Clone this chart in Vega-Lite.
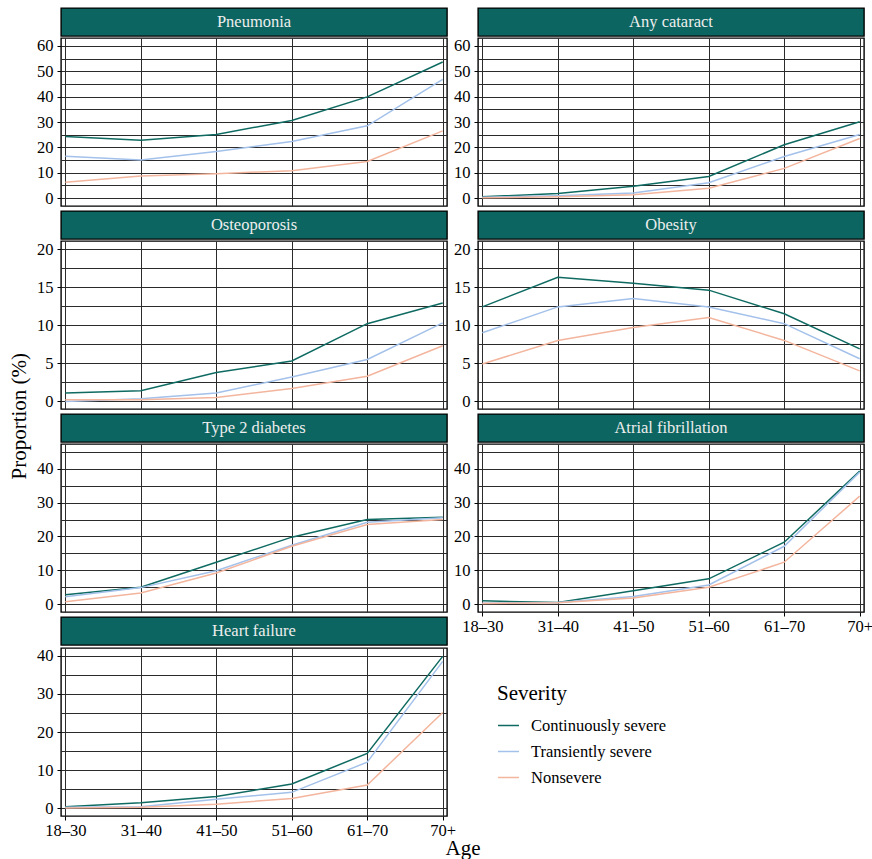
{
  "$schema": "https://vega.github.io/schema/vega-lite/v6.json",
  "padding": {"left": 8, "top": 7, "right": 0, "bottom": 0},
  "background": "white",
  "title": {"text": "Age", "orient": "bottom", "anchor": "middle", "font": "Liberation Serif", "fontSize": 21, "fontWeight": "normal", "color": "black", "dx": 22, "offset": -1},
  "config": {
    "view": {"stroke": "black", "strokeWidth": 1.4},
    "axis": {"labelFont": "Liberation Serif", "labelFontSize": 16.5, "labelColor": "black", "tickColor": "black", "tickSize": 4, "labelPadding": 4, "domain": false, "grid": true, "gridColor": "#2b2b2b", "gridWidth": 1, "titleFont": "Liberation Serif", "titleFontSize": 21, "titleFontWeight": "normal", "titleColor": "black", "minExtent": 0},
    "legend": {"titleFont": "Liberation Serif", "titleFontSize": 21, "titleFontWeight": "normal", "titleColor": "black", "labelFont": "Liberation Serif", "labelFontSize": 16.5, "labelColor": "black", "symbolType": "stroke", "symbolSize": 441, "symbolStrokeWidth": 1.5, "rowPadding": 6, "titlePadding": 10, "labelOffset": 11}
  },
  "datasets": {
    "panels": [{"panel": "Pneumonia"}, {"panel": "Any cataract"}, {"panel": "Osteoporosis"}, {"panel": "Obesity"}, {"panel": "Type 2 diabetes"}, {"panel": "Atrial fibrillation"}, {"panel": "Heart failure"}],
    "main": [
      {"panel": "Pneumonia", "severity": "Continuously severe", "age": "18–30", "value": 24.3},
      {"panel": "Pneumonia", "severity": "Continuously severe", "age": "31–40", "value": 22.8},
      {"panel": "Pneumonia", "severity": "Continuously severe", "age": "41–50", "value": 25.1},
      {"panel": "Pneumonia", "severity": "Continuously severe", "age": "51–60", "value": 30.6},
      {"panel": "Pneumonia", "severity": "Continuously severe", "age": "61–70", "value": 39.9},
      {"panel": "Pneumonia", "severity": "Continuously severe", "age": "70+", "value": 53.7},
      {"panel": "Pneumonia", "severity": "Transiently severe", "age": "18–30", "value": 16.5},
      {"panel": "Pneumonia", "severity": "Transiently severe", "age": "31–40", "value": 15.0},
      {"panel": "Pneumonia", "severity": "Transiently severe", "age": "41–50", "value": 18.4},
      {"panel": "Pneumonia", "severity": "Transiently severe", "age": "51–60", "value": 22.3},
      {"panel": "Pneumonia", "severity": "Transiently severe", "age": "61–70", "value": 28.5},
      {"panel": "Pneumonia", "severity": "Transiently severe", "age": "70+", "value": 46.8},
      {"panel": "Pneumonia", "severity": "Nonsevere", "age": "18–30", "value": 6.2},
      {"panel": "Pneumonia", "severity": "Nonsevere", "age": "31–40", "value": 8.7},
      {"panel": "Pneumonia", "severity": "Nonsevere", "age": "41–50", "value": 9.6},
      {"panel": "Pneumonia", "severity": "Nonsevere", "age": "51–60", "value": 10.8},
      {"panel": "Pneumonia", "severity": "Nonsevere", "age": "61–70", "value": 14.4},
      {"panel": "Pneumonia", "severity": "Nonsevere", "age": "70+", "value": 26.5},

      {"panel": "Any cataract", "severity": "Continuously severe", "age": "18–30", "value": 0.5},
      {"panel": "Any cataract", "severity": "Continuously severe", "age": "31–40", "value": 1.8},
      {"panel": "Any cataract", "severity": "Continuously severe", "age": "41–50", "value": 4.6},
      {"panel": "Any cataract", "severity": "Continuously severe", "age": "51–60", "value": 8.5},
      {"panel": "Any cataract", "severity": "Continuously severe", "age": "61–70", "value": 21.0},
      {"panel": "Any cataract", "severity": "Continuously severe", "age": "70+", "value": 30.1},
      {"panel": "Any cataract", "severity": "Transiently severe", "age": "18–30", "value": 0.3},
      {"panel": "Any cataract", "severity": "Transiently severe", "age": "31–40", "value": 0.9},
      {"panel": "Any cataract", "severity": "Transiently severe", "age": "41–50", "value": 2.0},
      {"panel": "Any cataract", "severity": "Transiently severe", "age": "51–60", "value": 6.0},
      {"panel": "Any cataract", "severity": "Transiently severe", "age": "61–70", "value": 16.4},
      {"panel": "Any cataract", "severity": "Transiently severe", "age": "70+", "value": 25.1},
      {"panel": "Any cataract", "severity": "Nonsevere", "age": "18–30", "value": 0.1},
      {"panel": "Any cataract", "severity": "Nonsevere", "age": "31–40", "value": 0.5},
      {"panel": "Any cataract", "severity": "Nonsevere", "age": "41–50", "value": 1.3},
      {"panel": "Any cataract", "severity": "Nonsevere", "age": "51–60", "value": 3.9},
      {"panel": "Any cataract", "severity": "Nonsevere", "age": "61–70", "value": 11.7},
      {"panel": "Any cataract", "severity": "Nonsevere", "age": "70+", "value": 23.5},

      {"panel": "Osteoporosis", "severity": "Continuously severe", "age": "18–30", "value": 1.1},
      {"panel": "Osteoporosis", "severity": "Continuously severe", "age": "31–40", "value": 1.4},
      {"panel": "Osteoporosis", "severity": "Continuously severe", "age": "41–50", "value": 3.8},
      {"panel": "Osteoporosis", "severity": "Continuously severe", "age": "51–60", "value": 5.3},
      {"panel": "Osteoporosis", "severity": "Continuously severe", "age": "61–70", "value": 10.2},
      {"panel": "Osteoporosis", "severity": "Continuously severe", "age": "70+", "value": 12.9},
      {"panel": "Osteoporosis", "severity": "Transiently severe", "age": "18–30", "value": 0.0},
      {"panel": "Osteoporosis", "severity": "Transiently severe", "age": "31–40", "value": 0.35},
      {"panel": "Osteoporosis", "severity": "Transiently severe", "age": "41–50", "value": 1.1},
      {"panel": "Osteoporosis", "severity": "Transiently severe", "age": "51–60", "value": 3.2},
      {"panel": "Osteoporosis", "severity": "Transiently severe", "age": "61–70", "value": 5.5},
      {"panel": "Osteoporosis", "severity": "Transiently severe", "age": "70+", "value": 10.3},
      {"panel": "Osteoporosis", "severity": "Nonsevere", "age": "18–30", "value": 0.2},
      {"panel": "Osteoporosis", "severity": "Nonsevere", "age": "31–40", "value": 0.2},
      {"panel": "Osteoporosis", "severity": "Nonsevere", "age": "41–50", "value": 0.5},
      {"panel": "Osteoporosis", "severity": "Nonsevere", "age": "51–60", "value": 1.7},
      {"panel": "Osteoporosis", "severity": "Nonsevere", "age": "61–70", "value": 3.3},
      {"panel": "Osteoporosis", "severity": "Nonsevere", "age": "70+", "value": 7.3},

      {"panel": "Obesity", "severity": "Continuously severe", "age": "18–30", "value": 12.4},
      {"panel": "Obesity", "severity": "Continuously severe", "age": "31–40", "value": 16.3},
      {"panel": "Obesity", "severity": "Continuously severe", "age": "41–50", "value": 15.5},
      {"panel": "Obesity", "severity": "Continuously severe", "age": "51–60", "value": 14.6},
      {"panel": "Obesity", "severity": "Continuously severe", "age": "61–70", "value": 11.5},
      {"panel": "Obesity", "severity": "Continuously severe", "age": "70+", "value": 6.9},
      {"panel": "Obesity", "severity": "Transiently severe", "age": "18–30", "value": 9.0},
      {"panel": "Obesity", "severity": "Transiently severe", "age": "31–40", "value": 12.4},
      {"panel": "Obesity", "severity": "Transiently severe", "age": "41–50", "value": 13.5},
      {"panel": "Obesity", "severity": "Transiently severe", "age": "51–60", "value": 12.4},
      {"panel": "Obesity", "severity": "Transiently severe", "age": "61–70", "value": 10.2},
      {"panel": "Obesity", "severity": "Transiently severe", "age": "70+", "value": 5.6},
      {"panel": "Obesity", "severity": "Nonsevere", "age": "18–30", "value": 4.9},
      {"panel": "Obesity", "severity": "Nonsevere", "age": "31–40", "value": 8.0},
      {"panel": "Obesity", "severity": "Nonsevere", "age": "41–50", "value": 9.7},
      {"panel": "Obesity", "severity": "Nonsevere", "age": "51–60", "value": 11.0},
      {"panel": "Obesity", "severity": "Nonsevere", "age": "61–70", "value": 8.0},
      {"panel": "Obesity", "severity": "Nonsevere", "age": "70+", "value": 4.0},

      {"panel": "Type 2 diabetes", "severity": "Continuously severe", "age": "18–30", "value": 2.8},
      {"panel": "Type 2 diabetes", "severity": "Continuously severe", "age": "31–40", "value": 5.0},
      {"panel": "Type 2 diabetes", "severity": "Continuously severe", "age": "41–50", "value": 12.4},
      {"panel": "Type 2 diabetes", "severity": "Continuously severe", "age": "51–60", "value": 19.8},
      {"panel": "Type 2 diabetes", "severity": "Continuously severe", "age": "61–70", "value": 25.0},
      {"panel": "Type 2 diabetes", "severity": "Continuously severe", "age": "70+", "value": 25.7},
      {"panel": "Type 2 diabetes", "severity": "Transiently severe", "age": "18–30", "value": 2.2},
      {"panel": "Type 2 diabetes", "severity": "Transiently severe", "age": "31–40", "value": 4.9},
      {"panel": "Type 2 diabetes", "severity": "Transiently severe", "age": "41–50", "value": 9.9},
      {"panel": "Type 2 diabetes", "severity": "Transiently severe", "age": "51–60", "value": 17.4},
      {"panel": "Type 2 diabetes", "severity": "Transiently severe", "age": "61–70", "value": 24.2},
      {"panel": "Type 2 diabetes", "severity": "Transiently severe", "age": "70+", "value": 25.5},
      {"panel": "Type 2 diabetes", "severity": "Nonsevere", "age": "18–30", "value": 0.7},
      {"panel": "Type 2 diabetes", "severity": "Nonsevere", "age": "31–40", "value": 3.3},
      {"panel": "Type 2 diabetes", "severity": "Nonsevere", "age": "41–50", "value": 9.2},
      {"panel": "Type 2 diabetes", "severity": "Nonsevere", "age": "51–60", "value": 17.1},
      {"panel": "Type 2 diabetes", "severity": "Nonsevere", "age": "61–70", "value": 23.5},
      {"panel": "Type 2 diabetes", "severity": "Nonsevere", "age": "70+", "value": 25.0},

      {"panel": "Atrial fibrillation", "severity": "Continuously severe", "age": "18–30", "value": 1.0},
      {"panel": "Atrial fibrillation", "severity": "Continuously severe", "age": "31–40", "value": 0.5},
      {"panel": "Atrial fibrillation", "severity": "Continuously severe", "age": "41–50", "value": 4.0},
      {"panel": "Atrial fibrillation", "severity": "Continuously severe", "age": "51–60", "value": 7.5},
      {"panel": "Atrial fibrillation", "severity": "Continuously severe", "age": "61–70", "value": 18.3},
      {"panel": "Atrial fibrillation", "severity": "Continuously severe", "age": "70+", "value": 39.3},
      {"panel": "Atrial fibrillation", "severity": "Transiently severe", "age": "18–30", "value": 0.3},
      {"panel": "Atrial fibrillation", "severity": "Transiently severe", "age": "31–40", "value": 0.5},
      {"panel": "Atrial fibrillation", "severity": "Transiently severe", "age": "41–50", "value": 2.3},
      {"panel": "Atrial fibrillation", "severity": "Transiently severe", "age": "51–60", "value": 5.7},
      {"panel": "Atrial fibrillation", "severity": "Transiently severe", "age": "61–70", "value": 17.1},
      {"panel": "Atrial fibrillation", "severity": "Transiently severe", "age": "70+", "value": 39.0},
      {"panel": "Atrial fibrillation", "severity": "Nonsevere", "age": "18–30", "value": 0.2},
      {"panel": "Atrial fibrillation", "severity": "Nonsevere", "age": "31–40", "value": 0.4},
      {"panel": "Atrial fibrillation", "severity": "Nonsevere", "age": "41–50", "value": 1.8},
      {"panel": "Atrial fibrillation", "severity": "Nonsevere", "age": "51–60", "value": 5.0},
      {"panel": "Atrial fibrillation", "severity": "Nonsevere", "age": "61–70", "value": 12.4},
      {"panel": "Atrial fibrillation", "severity": "Nonsevere", "age": "70+", "value": 31.9},

      {"panel": "Heart failure", "severity": "Continuously severe", "age": "18–30", "value": 0.4},
      {"panel": "Heart failure", "severity": "Continuously severe", "age": "31–40", "value": 1.5},
      {"panel": "Heart failure", "severity": "Continuously severe", "age": "41–50", "value": 3.1},
      {"panel": "Heart failure", "severity": "Continuously severe", "age": "51–60", "value": 6.4},
      {"panel": "Heart failure", "severity": "Continuously severe", "age": "61–70", "value": 14.4},
      {"panel": "Heart failure", "severity": "Continuously severe", "age": "70+", "value": 39.8},
      {"panel": "Heart failure", "severity": "Transiently severe", "age": "18–30", "value": 0.3},
      {"panel": "Heart failure", "severity": "Transiently severe", "age": "31–40", "value": 0.4},
      {"panel": "Heart failure", "severity": "Transiently severe", "age": "41–50", "value": 2.4},
      {"panel": "Heart failure", "severity": "Transiently severe", "age": "51–60", "value": 4.2},
      {"panel": "Heart failure", "severity": "Transiently severe", "age": "61–70", "value": 12.1},
      {"panel": "Heart failure", "severity": "Transiently severe", "age": "70+", "value": 38.5},
      {"panel": "Heart failure", "severity": "Nonsevere", "age": "18–30", "value": 0.1},
      {"panel": "Heart failure", "severity": "Nonsevere", "age": "31–40", "value": 0.3},
      {"panel": "Heart failure", "severity": "Nonsevere", "age": "41–50", "value": 1.1},
      {"panel": "Heart failure", "severity": "Nonsevere", "age": "51–60", "value": 2.6},
      {"panel": "Heart failure", "severity": "Nonsevere", "age": "61–70", "value": 6.1},
      {"panel": "Heart failure", "severity": "Nonsevere", "age": "70+", "value": 25.1}
    ]
  },
  "hconcat": [
    {
      "spacing": 2,
      "title": {"text": "Proportion (%)", "orient": "left", "anchor": "middle", "font": "Liberation Serif", "fontSize": 21, "fontWeight": "normal", "color": "black", "offset": 6, "dx": 7},
      "vconcat": [
        {"spacing": 0, "vconcat": [
          {"width": 386, "height": 28, "view": {"fill": "#0c6560", "stroke": "black", "strokeWidth": 1.4}, "data": {"name": "panels"}, "transform": [{"filter": "datum.panel === 'Pneumonia'"}], "mark": {"type": "text", "color": "#eeeeee", "font": "Liberation Serif", "fontSize": 16.5}, "encoding": {"text": {"field": "panel"}}},
          {"width": 386, "height": 168, "data": {"name": "main"}, "transform": [{"filter": "datum.panel === 'Pneumonia'"}], "mark": {"type": "line", "strokeWidth": 1.5},
           "encoding": {
             "x": {"field": "age", "type": "ordinal", "sort": ["18–30", "31–40", "41–50", "51–60", "61–70", "70+"], "scale": {"type": "point", "padding": 0.057}, "axis": {"title": null, "labels": false, "ticks": false, "maxExtent": 0}},
             "y": {"field": "value", "type": "quantitative", "scale": {"domain": [-3.15, 63.15], "nice": false, "zero": false}, "axis": {"title": null, "values": [0, 5, 10, 15, 20, 25, 30, 35, 40, 45, 50, 55, 60], "labelExpr": "datum.value % 10 === 0 ? datum.label : ''", "tickOpacity": {"condition": {"test": "datum.value % 10 !== 0", "value": 0}, "value": 1}}},
             "color": {"field": "severity", "type": "nominal", "scale": {"domain": ["Continuously severe", "Transiently severe", "Nonsevere"], "range": ["#0f6b62", "#a3c1ea", "#f3b59d"]}}
           }}
        ]},
        {"spacing": 0, "vconcat": [
          {"width": 386, "height": 28, "view": {"fill": "#0c6560", "stroke": "black", "strokeWidth": 1.4}, "data": {"name": "panels"}, "transform": [{"filter": "datum.panel === 'Osteoporosis'"}], "mark": {"type": "text", "color": "#eeeeee", "font": "Liberation Serif", "fontSize": 16.5}, "encoding": {"text": {"field": "panel"}}},
          {"width": 386, "height": 168, "data": {"name": "main"}, "transform": [{"filter": "datum.panel === 'Osteoporosis'"}], "mark": {"type": "line", "strokeWidth": 1.5},
           "encoding": {
             "x": {"field": "age", "type": "ordinal", "sort": ["18–30", "31–40", "41–50", "51–60", "61–70", "70+"], "scale": {"type": "point", "padding": 0.057}, "axis": {"title": null, "labels": false, "ticks": false, "maxExtent": 0}},
             "y": {"field": "value", "type": "quantitative", "scale": {"domain": [-1, 21.05], "nice": false, "zero": false}, "axis": {"title": null, "values": [0, 2.5, 5, 7.5, 10, 12.5, 15, 17.5, 20], "labelExpr": "datum.value % 5 === 0 ? datum.label : ''", "tickOpacity": {"condition": {"test": "datum.value % 5 !== 0", "value": 0}, "value": 1}}},
             "color": {"field": "severity", "type": "nominal", "scale": {"domain": ["Continuously severe", "Transiently severe", "Nonsevere"], "range": ["#0f6b62", "#a3c1ea", "#f3b59d"]}}
           }}
        ]},
        {"spacing": 0, "vconcat": [
          {"width": 386, "height": 28, "view": {"fill": "#0c6560", "stroke": "black", "strokeWidth": 1.4}, "data": {"name": "panels"}, "transform": [{"filter": "datum.panel === 'Type 2 diabetes'"}], "mark": {"type": "text", "color": "#eeeeee", "font": "Liberation Serif", "fontSize": 16.5}, "encoding": {"text": {"field": "panel"}}},
          {"width": 386, "height": 168, "data": {"name": "main"}, "transform": [{"filter": "datum.panel === 'Type 2 diabetes'"}], "mark": {"type": "line", "strokeWidth": 1.5},
           "encoding": {
             "x": {"field": "age", "type": "ordinal", "sort": ["18–30", "31–40", "41–50", "51–60", "61–70", "70+"], "scale": {"type": "point", "padding": 0.057}, "axis": {"title": null, "labels": false, "ticks": false, "maxExtent": 0}},
             "y": {"field": "value", "type": "quantitative", "scale": {"domain": [-2.3, 47.3], "nice": false, "zero": false}, "axis": {"title": null, "values": [0, 5, 10, 15, 20, 25, 30, 35, 40, 45], "labelExpr": "datum.value % 10 === 0 ? datum.label : ''", "tickOpacity": {"condition": {"test": "datum.value % 10 !== 0", "value": 0}, "value": 1}}},
             "color": {"field": "severity", "type": "nominal", "scale": {"domain": ["Continuously severe", "Transiently severe", "Nonsevere"], "range": ["#0f6b62", "#a3c1ea", "#f3b59d"]}}
           }}
        ]},
        {"spacing": 0, "vconcat": [
          {"width": 386, "height": 28, "view": {"fill": "#0c6560", "stroke": "black", "strokeWidth": 1.4}, "data": {"name": "panels"}, "transform": [{"filter": "datum.panel === 'Heart failure'"}], "mark": {"type": "text", "color": "#eeeeee", "font": "Liberation Serif", "fontSize": 16.5}, "encoding": {"text": {"field": "panel"}}},
          {"width": 386, "height": 168, "data": {"name": "main"}, "transform": [{"filter": "datum.panel === 'Heart failure'"}], "mark": {"type": "line", "strokeWidth": 1.5},
           "encoding": {
             "x": {"field": "age", "type": "ordinal", "sort": ["18–30", "31–40", "41–50", "51–60", "61–70", "70+"], "scale": {"type": "point", "padding": 0.057}, "axis": {"title": null, "labelAngle": 0, "labelPadding": 2}},
             "y": {"field": "value", "type": "quantitative", "scale": {"domain": [-2, 42], "nice": false, "zero": false}, "axis": {"title": null, "values": [0, 5, 10, 15, 20, 25, 30, 35, 40], "labelExpr": "datum.value % 10 === 0 ? datum.label : ''", "tickOpacity": {"condition": {"test": "datum.value % 10 !== 0", "value": 0}, "value": 1}}},
             "color": {"field": "severity", "type": "nominal", "scale": {"domain": ["Continuously severe", "Transiently severe", "Nonsevere"], "range": ["#0f6b62", "#a3c1ea", "#f3b59d"]}, "legend": {"title": "Severity", "orient": "none", "legendX": 436, "legendY": 675}}
           }}
        ]}
      ]
    },
    {
      "spacing": 2,
      "vconcat": [
        {"spacing": 0, "vconcat": [
          {"width": 386, "height": 28, "view": {"fill": "#0c6560", "stroke": "black", "strokeWidth": 1.4}, "data": {"name": "panels"}, "transform": [{"filter": "datum.panel === 'Any cataract'"}], "mark": {"type": "text", "color": "#eeeeee", "font": "Liberation Serif", "fontSize": 16.5}, "encoding": {"text": {"field": "panel"}}},
          {"width": 386, "height": 168, "data": {"name": "main"}, "transform": [{"filter": "datum.panel === 'Any cataract'"}], "mark": {"type": "line", "strokeWidth": 1.5},
           "encoding": {
             "x": {"field": "age", "type": "ordinal", "sort": ["18–30", "31–40", "41–50", "51–60", "61–70", "70+"], "scale": {"type": "point", "padding": 0.057}, "axis": {"title": null, "labels": false, "ticks": false, "maxExtent": 0}},
             "y": {"field": "value", "type": "quantitative", "scale": {"domain": [-3.15, 63.15], "nice": false, "zero": false}, "axis": {"title": null, "values": [0, 5, 10, 15, 20, 25, 30, 35, 40, 45, 50, 55, 60], "labelExpr": "datum.value % 10 === 0 ? datum.label : ''", "tickOpacity": {"condition": {"test": "datum.value % 10 !== 0", "value": 0}, "value": 1}}},
             "color": {"field": "severity", "type": "nominal", "scale": {"domain": ["Continuously severe", "Transiently severe", "Nonsevere"], "range": ["#0f6b62", "#a3c1ea", "#f3b59d"]}}
           }}
        ]},
        {"spacing": 0, "vconcat": [
          {"width": 386, "height": 28, "view": {"fill": "#0c6560", "stroke": "black", "strokeWidth": 1.4}, "data": {"name": "panels"}, "transform": [{"filter": "datum.panel === 'Obesity'"}], "mark": {"type": "text", "color": "#eeeeee", "font": "Liberation Serif", "fontSize": 16.5}, "encoding": {"text": {"field": "panel"}}},
          {"width": 386, "height": 168, "data": {"name": "main"}, "transform": [{"filter": "datum.panel === 'Obesity'"}], "mark": {"type": "line", "strokeWidth": 1.5},
           "encoding": {
             "x": {"field": "age", "type": "ordinal", "sort": ["18–30", "31–40", "41–50", "51–60", "61–70", "70+"], "scale": {"type": "point", "padding": 0.057}, "axis": {"title": null, "labels": false, "ticks": false, "maxExtent": 0}},
             "y": {"field": "value", "type": "quantitative", "scale": {"domain": [-1, 21.05], "nice": false, "zero": false}, "axis": {"title": null, "values": [0, 2.5, 5, 7.5, 10, 12.5, 15, 17.5, 20], "labelExpr": "datum.value % 5 === 0 ? datum.label : ''", "tickOpacity": {"condition": {"test": "datum.value % 5 !== 0", "value": 0}, "value": 1}}},
             "color": {"field": "severity", "type": "nominal", "scale": {"domain": ["Continuously severe", "Transiently severe", "Nonsevere"], "range": ["#0f6b62", "#a3c1ea", "#f3b59d"]}}
           }}
        ]},
        {"spacing": 0, "vconcat": [
          {"width": 386, "height": 28, "view": {"fill": "#0c6560", "stroke": "black", "strokeWidth": 1.4}, "data": {"name": "panels"}, "transform": [{"filter": "datum.panel === 'Atrial fibrillation'"}], "mark": {"type": "text", "color": "#eeeeee", "font": "Liberation Serif", "fontSize": 16.5}, "encoding": {"text": {"field": "panel"}}},
          {"width": 386, "height": 168, "data": {"name": "main"}, "transform": [{"filter": "datum.panel === 'Atrial fibrillation'"}], "mark": {"type": "line", "strokeWidth": 1.5},
           "encoding": {
             "x": {"field": "age", "type": "ordinal", "sort": ["18–30", "31–40", "41–50", "51–60", "61–70", "70+"], "scale": {"type": "point", "padding": 0.057}, "axis": {"title": null, "labelAngle": 0, "labelPadding": 2}},
             "y": {"field": "value", "type": "quantitative", "scale": {"domain": [-2.3, 47.3], "nice": false, "zero": false}, "axis": {"title": null, "values": [0, 5, 10, 15, 20, 25, 30, 35, 40, 45], "labelExpr": "datum.value % 10 === 0 ? datum.label : ''", "tickOpacity": {"condition": {"test": "datum.value % 10 !== 0", "value": 0}, "value": 1}}},
             "color": {"field": "severity", "type": "nominal", "scale": {"domain": ["Continuously severe", "Transiently severe", "Nonsevere"], "range": ["#0f6b62", "#a3c1ea", "#f3b59d"]}}
           }}
        ]}
      ]
    }
  ],
  "spacing": -5
}
